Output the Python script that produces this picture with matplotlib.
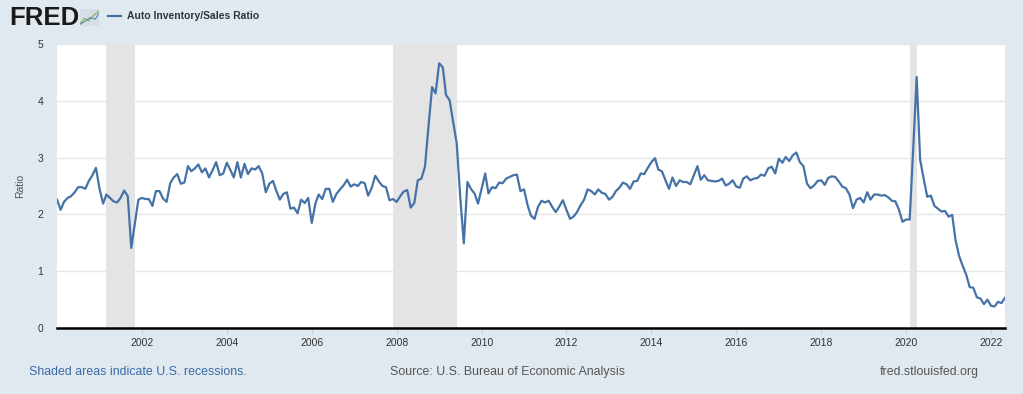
import matplotlib
matplotlib.use('Agg')
import matplotlib.pyplot as plt
import matplotlib.dates as mdates
import pandas as pd

plt.rcParams['font.family'] = ['Liberation Sans', 'DejaVu Sans']

# monthly Auto Inventory/Sales Ratio, Jan 2000 - May 2022
ratio_2000 = [2.26, 2.08, 2.22, 2.29, 2.32, 2.39, 2.48, 2.48, 2.45, 2.59, 2.69, 2.82]
ratio_2001 = [2.45, 2.19, 2.35, 2.29, 2.23, 2.21, 2.29, 2.42, 2.32, 1.41, 1.84, 2.26]
ratio_2002 = [2.29, 2.27, 2.27, 2.15, 2.41, 2.41, 2.28, 2.22, 2.55, 2.65, 2.71, 2.54]
ratio_2003 = [2.56, 2.85, 2.76, 2.81, 2.88, 2.74, 2.81, 2.65, 2.78, 2.92, 2.69, 2.72]
ratio_2004 = [2.91, 2.78, 2.65, 2.92, 2.65, 2.89, 2.71, 2.81, 2.79, 2.85, 2.72, 2.39]
ratio_2005 = [2.54, 2.59, 2.42, 2.26, 2.36, 2.39, 2.10, 2.12, 2.02, 2.26, 2.20, 2.29]
ratio_2006 = [1.85, 2.19, 2.35, 2.27, 2.45, 2.45, 2.22, 2.36, 2.44, 2.51, 2.61, 2.49]
ratio_2007 = [2.53, 2.50, 2.57, 2.55, 2.33, 2.47, 2.68, 2.58, 2.50, 2.48, 2.25, 2.27]
ratio_2008 = [2.22, 2.32, 2.40, 2.43, 2.12, 2.20, 2.60, 2.63, 2.84, 3.55, 4.24, 4.13]
ratio_2009 = [4.66, 4.59, 4.10, 4.01, 3.63, 3.25, 2.31, 1.49, 2.57, 2.45, 2.37, 2.19]
ratio_2010 = [2.45, 2.72, 2.37, 2.48, 2.46, 2.56, 2.55, 2.63, 2.66, 2.69, 2.70, 2.41]
ratio_2011 = [2.44, 2.16, 1.98, 1.92, 2.13, 2.24, 2.21, 2.24, 2.13, 2.04, 2.14, 2.25]
ratio_2012 = [2.08, 1.92, 1.96, 2.04, 2.16, 2.26, 2.44, 2.41, 2.35, 2.44, 2.38, 2.36]
ratio_2013 = [2.26, 2.31, 2.41, 2.47, 2.56, 2.53, 2.45, 2.58, 2.59, 2.72, 2.71, 2.82]
ratio_2014 = [2.92, 2.99, 2.79, 2.76, 2.61, 2.45, 2.65, 2.50, 2.60, 2.57, 2.57, 2.53]
ratio_2015 = [2.69, 2.85, 2.61, 2.69, 2.60, 2.59, 2.58, 2.59, 2.63, 2.51, 2.54, 2.60]
ratio_2016 = [2.49, 2.47, 2.63, 2.67, 2.60, 2.63, 2.64, 2.70, 2.68, 2.81, 2.84, 2.72]
ratio_2017 = [2.98, 2.91, 3.01, 2.94, 3.04, 3.09, 2.92, 2.85, 2.54, 2.46, 2.51, 2.59]
ratio_2018 = [2.60, 2.52, 2.64, 2.67, 2.66, 2.58, 2.49, 2.46, 2.35, 2.11, 2.26, 2.29]
ratio_2019 = [2.21, 2.39, 2.26, 2.35, 2.35, 2.33, 2.34, 2.30, 2.24, 2.23, 2.08, 1.87]
ratio_2020 = [1.91, 1.91, 3.10, 4.42, 2.96, 2.62, 2.31, 2.33, 2.15, 2.10, 2.05, 2.06]
ratio_2021 = [1.96, 1.99, 1.55, 1.27, 1.10, 0.94, 0.72, 0.71, 0.54, 0.52, 0.42, 0.50]
ratio_2022 = [0.39, 0.38, 0.46, 0.44, 0.53]

ratio = (ratio_2000 + ratio_2001 + ratio_2002 + ratio_2003 + ratio_2004 + ratio_2005
         + ratio_2006 + ratio_2007 + ratio_2008 + ratio_2009 + ratio_2010 + ratio_2011
         + ratio_2012 + ratio_2013 + ratio_2014 + ratio_2015 + ratio_2016 + ratio_2017
         + ratio_2018 + ratio_2019 + ratio_2020 + ratio_2021 + ratio_2022)
dates = pd.date_range('2000-01-01', periods=len(ratio), freq='MS')

recession_start = ['2001-03-01', '2007-12-01', '2020-02-01']
recession_end = ['2001-11-01', '2009-06-01', '2020-04-01']

tick_years = list(range(2002, 2023, 2))
y_ticks = [0, 1, 2, 3, 4, 5]

BG = '#e1e9f0'
LINE = '#4572a7'

W, H = 1023, 394
fig = plt.figure(figsize=(W / 100, H / 100), dpi=100, facecolor=BG)

# plot area in pixels
left, right, top, bottom = 57, 1005, 44, 328
ax = fig.add_axes([left / W, 1 - bottom / H, (right - left) / W, (bottom - top) / H])
ax.set_facecolor('white')

for s, e in zip(recession_start, recession_end):
    ax.axvspan(pd.Timestamp(s), pd.Timestamp(e), color='#e4e4e4', lw=0, zorder=1)

ax.plot(dates, ratio, color=LINE, lw=1.6, zorder=3, solid_joinstyle='round')

ax.set_xlim(dates[0], dates[-1])
ax.set_ylim(0, 5)
ax.set_yticks(y_ticks)
ax.set_xticks([pd.Timestamp(f'{y}-01-01') for y in tick_years])
ax.xaxis.set_major_formatter(mdates.DateFormatter('%Y'))

ax.grid(axis='y', color='#e6e6e6', lw=1, zorder=0)
ax.set_axisbelow(True)

for side in ['top', 'right', 'left']:
    ax.spines[side].set_visible(False)
ax.spines['bottom'].set_color('black')
ax.spines['bottom'].set_linewidth(1.8)
ax.spines['bottom'].set_zorder(4)

ax.tick_params(axis='y', length=0, pad=10, labelsize=7.5, labelcolor='#333333')
ax.tick_params(axis='x', length=4, width=0.8, color='#c8d2de', pad=3,
               labelsize=7.5, labelcolor='#333333')
ax.set_ylabel('Ratio', fontsize=7.5, color='#555555', labelpad=9)

# header
fig.text(9 / W, 1 - 18 / H, 'FRED', fontsize=18.5, fontweight='bold', color='#1a1a1a',
         va='center', ha='left')
icon = fig.add_axes([80 / W, 1 - 26 / H, 19 / W, 17 / H])
icon.set_facecolor('#d6dde5')
icon.set_xticks([])
icon.set_yticks([])
for sp in icon.spines.values():
    sp.set_visible(False)
icon.plot([0, 0.25, 0.45, 0.7, 1], [0.15, 0.45, 0.3, 0.6, 0.9], color='#7fb24a', lw=0.8)
icon.plot([0, 0.3, 0.55, 0.8, 1], [0.1, 0.3, 0.5, 0.4, 0.75], color='#5b86c0', lw=0.8)
icon.set_xlim(0, 1)
icon.set_ylim(0, 1)

fig.add_artist(plt.Line2D([108 / W, 121 / W], [1 - 16 / H, 1 - 16 / H], color=LINE, lw=1.6))
fig.text(127 / W, 1 - 16 / H, 'Auto Inventory/Sales Ratio', fontsize=7.5, fontweight='bold',
         color='#333333', va='center', ha='left')

# footer
fig.text(29 / W, 1 - 372 / H, 'Shaded areas indicate U.S. recessions.', fontsize=8.9,
         color='#3a6aa8', va='center', ha='left')
fig.text(390 / W, 1 - 372 / H, 'Source: U.S. Bureau of Economic Analysis', fontsize=8.9,
         color='#555555', va='center', ha='left')
fig.text(979 / W, 1 - 372 / H, 'fred.stlouisfed.org', fontsize=8.9,
         color='#555555', va='center', ha='right')

fig.savefig('out.png', dpi=100, facecolor=BG)
